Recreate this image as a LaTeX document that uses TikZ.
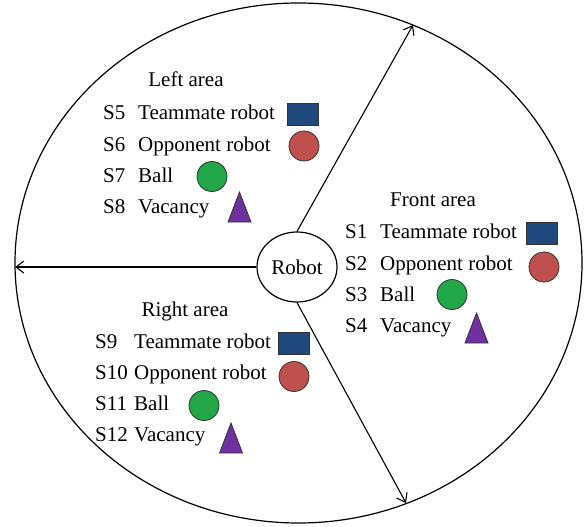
\documentclass[tikz,border=0pt]{standalone}
\usepackage{fontspec}
\setmainfont{Liberation Serif}
\usetikzlibrary{arrows.meta,shapes.geometric}

\definecolor{mateblue}{RGB}{31,73,125}
\definecolor{opprd}{RGB}{192,80,77}
\definecolor{ballgreen}{RGB}{33,166,72}
\definecolor{vacpurple}{RGB}{112,48,160}

\tikzset{
  outline/.style={draw=black, line width=1.2pt},
  arr/.style={line width=1.1pt, -{Straight Barb[length=8pt,width=12pt,line width=1.1pt]}},
  lbl/.style={anchor=base west, inner sep=0pt},
  head/.style={anchor=base, inner sep=0pt},
  matebox/.style={rectangle, fill=mateblue, draw=black!80, line width=0.8pt,
                  minimum width=31pt, minimum height=22pt, inner sep=0pt},
  oppdisc/.style={circle, fill=opprd, draw=black!80, line width=0.8pt,
                  minimum size=30pt, inner sep=0pt},
  balldisc/.style={circle, fill=ballgreen, draw=black!80, line width=0.8pt,
                  minimum size=30pt, inner sep=0pt},
  vactri/.style={fill=vacpurple, draw=black!80, line width=0.8pt, line join=miter}
}

% purple "vacancy" triangle centred on a named coordinate
\newcommand{\vacmark}[3]{%
  \coordinate (#1) at (#2,#3);
  \filldraw[vactri] ([shift={(-11.5,15)}]#1) -- ([shift={(0,-15)}]#1)
    -- ([shift={(11.5,15)}]#1) -- cycle;}

\begin{document}
\begin{tikzpicture}[x=1pt, y=-1pt, font=\fontsize{21}{25}\selectfont]
\useasboundingbox (0,0) rectangle (587,527);

% playing field and robot
\node[outline, ellipse, minimum width=567pt, minimum height=520pt, inner sep=0pt]
  (field) at (298.5,263) {};
\node[outline, ellipse, minimum width=80pt, minimum height=70pt, inner sep=0pt]
  (robot) at (297,267) {Robot};

% area boundaries
\coordinate (ftip) at (413,25);
\coordinate (btip) at (406,503);
\coordinate (ltip) at (15,267);
\draw[arr] (robot.north) -- (ftip);
\draw[arr] (robot.south) -- (btip);
\draw[arr] (robot.west) -- (ltip);

% ---------- left area ----------
\node[head] (lhead) at (186,87) {Left area};
\node[lbl] (s5) at (103,120) {S5};
\node[lbl] (s5t) at (138,120) {Teammate robot};
\node[lbl] (s6) at (103,151) {S6};
\node[lbl] (s6t) at (138,151) {Opponent robot};
\node[lbl] (s7) at (103,182) {S7};
\node[lbl] (s7t) at (138,182) {Ball};
\node[lbl] (s8) at (103,213) {S8};
\node[lbl] (s8t) at (138,213) {Vacancy};
\node[matebox] (lmate) at (302.5,114) {};
\node[oppdisc] (lopp) at (304,146) {};
\node[balldisc] (lball) at (212,176.5) {};
\vacmark{lvac}{239.5}{207}

% ---------- front area ----------
\node[head] (fhead) at (433,206) {Front area};
\node[lbl] (s1) at (345,238) {S1};
\node[lbl] (s1t) at (380,238) {Teammate robot};
\node[lbl] (s2) at (345,270) {S2};
\node[lbl] (s2t) at (380,270) {Opponent robot};
\node[lbl] (s3) at (345,301) {S3};
\node[lbl] (s3t) at (380,301) {Ball};
\node[lbl] (s4) at (345,332) {S4};
\node[lbl] (s4t) at (380,332) {Vacancy};
\node[matebox] (fmate) at (542,233) {};
\node[oppdisc] (fopp) at (544,267) {};
\node[balldisc] (fball) at (452,294.5) {};
\vacmark{fvac}{476.5}{328}

% ---------- right area ----------
\node[head] (rhead) at (185,316) {Right area};
\node[lbl] (s9) at (95,348) {S9};
\node[lbl] (s9t) at (134,348) {Teammate robot};
\node[lbl] (s10) at (95,379) {S10};
\node[lbl] (s10t) at (134,379) {Opponent robot};
\node[lbl] (s11) at (95,410) {S11};
\node[lbl] (s11t) at (134,410) {Ball};
\node[lbl] (s12) at (95,441) {S12};
\node[lbl] (s12t) at (134,441) {Vacancy};
\node[matebox] (rmate) at (293.5,343) {};
\node[oppdisc] (ropp) at (294,376.5) {};
\node[balldisc] (rball) at (204,405.5) {};
\vacmark{rvac}{231}{438}
\end{tikzpicture}
\end{document}
